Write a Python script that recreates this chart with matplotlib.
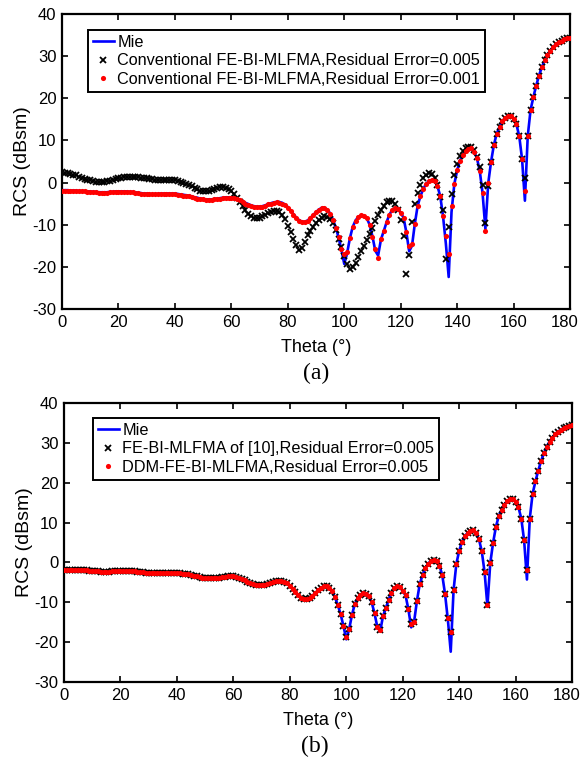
import numpy as np
import matplotlib
matplotlib.use("Agg")
import matplotlib.pyplot as plt
from matplotlib.transforms import ScaledTranslation

plt.rcParams['font.family'] = ['Liberation Sans', 'DejaVu Sans']
plt.rcParams['axes.unicode_minus'] = False

# observation angle, one sample per degree
theta = np.arange(0, 181)

# Mie reference (dBsm)
mie = [
    -1.8, -1.8, -1.8, -1.9, -1.9, -1.9, -2.0, -2.0, -2.0, -2.1,
    -2.1, -2.2, -2.2, -2.3, -2.3, -2.3, -2.3, -2.2, -2.2, -2.1,
    -2.1, -2.1, -2.1, -2.1, -2.2, -2.2, -2.3, -2.4, -2.5, -2.6,
    -2.6, -2.7, -2.7, -2.7, -2.7, -2.6, -2.6, -2.6, -2.6, -2.6,
    -2.6, -2.7, -2.8, -2.9, -3.0, -3.1, -3.3, -3.5, -3.6, -3.8,
    -3.9, -4.0, -4.0, -4.0, -3.9, -3.8, -3.7, -3.6, -3.5, -3.5,
    -3.5, -3.6, -3.8, -4.1, -4.4, -4.8, -5.1, -5.4, -5.6, -5.7,
    -5.7, -5.6, -5.4, -5.1, -4.9, -4.7, -4.6, -4.6, -4.8, -5.2,
    -5.8, -6.6, -7.5, -8.3, -8.9, -9.3, -9.3, -9.0, -8.4, -7.7,
    -7.0, -6.4, -6.0, -6.0, -6.4, -7.3, -8.8, -10.7, -13.0, -16.0,
    -19.3, -16.8, -13.2, -10.5, -9.0, -8.1, -7.8, -7.9, -8.5, -10.0,
    -12.8, -16.2, -17.3, -13.5, -11.5, -9.4, -7.6, -6.5, -6.0, -6.2,
    -7.2, -8.3, -11.8, -16.3, -15.0, -9.8, -5.5, -3.2, -1.5, -0.3,
    0.4, 0.6, 0.4, -0.8, -3.2, -8.0, -14.5, -22.4, -7.0, -0.3,
    2.9, 5.2, 6.6, 7.4, 8.0, 8.1, 7.3, 5.8, 2.8, -2.5,
    -11.0, -0.2, 4.9, 8.9, 11.6, 13.2, 14.5, 15.4, 15.8, 15.8,
    15.2, 13.8, 11.0, 5.5, -4.3, 11.0, 17.2, 20.3, 23.0, 25.4,
    27.4, 29.0, 30.3, 31.3, 32.2, 32.8, 33.3, 33.7, 34.0, 34.3,
    34.4,
]

# (a) conventional FE-BI-MLFMA, residual error 0.005
conv_005 = [
    2.4, 2.3, 2.2, 2.0, 1.8, 1.7, 1.4, 1.1, 0.9, 0.6,
    0.5, 0.3, 0.2, 0.1, 0.1, 0.2, 0.3, 0.4, 0.6, 0.8,
    1.0, 1.1, 1.3, 1.4, 1.4, 1.4, 1.4, 1.3, 1.2, 1.1,
    1.0, 0.9, 0.8, 0.7, 0.6, 0.6, 0.6, 0.6, 0.6, 0.5,
    0.5, 0.4, 0.2, 0.0, -0.3, -0.6, -0.9, -1.3, -1.6, -1.9,
    -2.0, -2.1, -2.0, -1.8, -1.5, -1.3, -1.1, -1.1, -1.2, -1.5,
    -2.1, -2.8, -3.6, -4.5, -5.6, -6.6, -7.4, -8.0, -8.4, -8.5,
    -8.3, -8.0, -7.6, -7.2, -6.9, -6.7, -6.7, -7.0, -7.6, -8.6,
    -10.2, -11.8, -13.3, -14.7, -16.0, -15.5, -14.0, -12.5, -11.5, -10.6,
    -9.5, -8.8, -8.3, -8.0, -8.2, -8.6, -9.6, -11.3, -13.3, -15.2,
    -17.5, -19.4, -20.5, -20.0, -19.0, -17.6, -16.3, -15.0, -13.7, -12.2,
    -10.7, -9.2, -7.8, -6.5, -5.5, -4.7, -4.3, -4.4, -5.0, -6.5,
    -8.8, -12.6, -21.8, -17.2, -9.4, -5.0, -2.5, -0.5, 1.0, 1.8,
    2.2, 2.0, 1.2, -0.5, -3.5, -6.6, -18.1, -10.6, -2.7, 1.7,
    4.4, 6.4, 7.4, 8.2, 8.5, 8.4, 7.8, 6.0, 3.6, -0.5,
    -9.7, -0.7, 5.0, 8.9, 11.6, 13.2, 14.5, 15.4, 15.8, 15.8,
    15.2, 13.8, 11.0, 5.5, 1.0, 11.0, 17.2, 20.3, 23.0, 25.4,
    27.4, 29.0, 30.3, 31.3, 32.2, 32.8, 33.3, 33.7, 34.0, 34.3,
    34.4,
]

# (a) conventional FE-BI-MLFMA, residual error 0.001
conv_001 = [
    -1.9, -1.9, -1.9, -2.0, -2.0, -2.0, -2.1, -2.1, -2.1, -2.2,
    -2.2, -2.3, -2.3, -2.4, -2.4, -2.4, -2.4, -2.3, -2.3, -2.2,
    -2.2, -2.2, -2.2, -2.2, -2.3, -2.3, -2.4, -2.5, -2.6, -2.7,
    -2.7, -2.8, -2.8, -2.8, -2.8, -2.7, -2.7, -2.7, -2.7, -2.7,
    -2.8, -2.9, -3.0, -3.1, -3.2, -3.3, -3.5, -3.7, -3.8, -3.9,
    -4.0, -4.1, -4.1, -4.1, -4.0, -3.9, -3.8, -3.7, -3.6, -3.6,
    -3.6, -3.7, -3.9, -4.2, -4.6, -5.0, -5.3, -5.6, -5.8, -5.9,
    -5.9, -5.8, -5.5, -5.2, -5.0, -4.8, -4.7, -4.8, -5.0, -5.4,
    -6.0, -6.8, -7.7, -8.5, -9.1, -9.4, -9.4, -9.1, -8.5, -7.8,
    -7.1, -6.5, -6.1, -6.1, -6.5, -7.4, -8.9, -10.8, -13.0, -15.8,
    -17.0, -16.5, -13.2, -10.5, -9.0, -8.1, -7.8, -7.9, -8.5, -10.0,
    -12.8, -15.8, -17.8, -13.5, -11.5, -9.4, -7.6, -6.5, -6.0, -6.2,
    -7.2, -8.3, -11.8, -15.0, -14.6, -9.8, -5.5, -3.2, -1.5, -0.3,
    0.4, 0.6, 0.4, -0.8, -3.2, -8.0, -12.6, -16.9, -5.5, -0.3,
    2.9, 5.2, 6.6, 7.4, 8.0, 8.1, 7.3, 5.8, 2.8, -2.5,
    -11.4, -0.2, 4.9, 8.9, 11.6, 13.2, 14.5, 15.4, 15.8, 15.8,
    15.2, 13.8, 11.0, 5.5, -2.1, 11.0, 17.2, 20.3, 23.0, 25.4,
    27.4, 29.0, 30.3, 31.3, 32.2, 32.8, 33.3, 33.7, 34.0, 34.3,
    34.4,
]

# (b) FE-BI-MLFMA of [10] and DDM-FE-BI-MLFMA, both residual error 0.005
ref10_005 = [
    -1.8, -1.8, -1.8, -1.9, -1.9, -1.9, -2.0, -2.0, -2.0, -2.1,
    -2.1, -2.2, -2.2, -2.3, -2.3, -2.3, -2.3, -2.2, -2.2, -2.1,
    -2.1, -2.1, -2.1, -2.1, -2.2, -2.2, -2.3, -2.4, -2.5, -2.6,
    -2.6, -2.7, -2.7, -2.7, -2.7, -2.6, -2.6, -2.6, -2.6, -2.6,
    -2.6, -2.7, -2.8, -2.9, -3.0, -3.1, -3.3, -3.5, -3.6, -3.8,
    -3.9, -4.0, -4.0, -4.0, -3.9, -3.8, -3.7, -3.6, -3.5, -3.5,
    -3.5, -3.6, -3.8, -4.1, -4.4, -4.8, -5.1, -5.4, -5.6, -5.7,
    -5.7, -5.6, -5.4, -5.1, -4.9, -4.7, -4.6, -4.6, -4.8, -5.2,
    -5.8, -6.6, -7.5, -8.3, -8.9, -9.3, -9.3, -9.0, -8.4, -7.7,
    -7.0, -6.4, -6.0, -6.0, -6.4, -7.3, -8.8, -10.7, -13.0, -16.0,
    -18.8, -16.8, -13.2, -10.5, -9.0, -8.1, -7.8, -7.9, -8.5, -10.0,
    -12.8, -16.2, -16.9, -13.5, -11.5, -9.4, -7.6, -6.5, -6.0, -6.2,
    -7.2, -8.3, -11.8, -15.5, -15.0, -9.8, -5.5, -3.2, -1.5, -0.3,
    0.4, 0.6, 0.4, -0.8, -3.2, -8.0, -14.0, -17.4, -7.0, -0.3,
    2.9, 5.2, 6.6, 7.4, 8.0, 8.1, 7.3, 5.8, 2.8, -2.5,
    -10.8, -0.2, 4.9, 8.9, 11.6, 13.2, 14.5, 15.4, 15.8, 15.8,
    15.2, 13.8, 11.0, 5.5, -1.8, 11.0, 17.2, 20.3, 23.0, 25.4,
    27.4, 29.0, 30.3, 31.3, 32.2, 32.8, 33.3, 33.7, 34.0, 34.3,
    34.4,
]
ddm_005 = list(ref10_005)

xticks = [0, 20, 40, 60, 80, 100, 120, 140, 160, 180]
yticks = [-30, -20, -10, 0, 10, 20, 30, 40]


def panel(ax, black, red, labels, legend_anchor):
    ax.plot(theta, mie, color="blue", lw=1.9, label="Mie", zorder=2)
    ax.plot(theta, black, ls="none", marker="x", ms=4.8, mew=1.3,
            color="black", label=labels[0], zorder=3)
    ax.plot(theta, red, ls="none", marker="o", ms=3.7, mew=0,
            color="red", label=labels[1], zorder=4)
    ax.set_xlim(0, 180)
    ax.set_ylim(-30, 40)
    ax.set_xticks(xticks)
    ax.set_yticks(yticks)
    ax.tick_params(direction="in", top=True, right=True, length=4,
                   width=1.2, labelsize=12, pad=4)
    for s in ax.spines.values():
        s.set_linewidth(1.6)
    # last x label sits a bit left so it stays inside the figure
    last = ax.get_xticklabels()[-1]
    last.set_transform(last.get_transform()
                       + ScaledTranslation(-0.05, 0, fig.dpi_scale_trans))
    ax.set_xlabel("Theta (°)", fontsize=13, labelpad=7)
    ax.set_ylabel("RCS (dBsm)", fontsize=14, labelpad=1)
    leg = ax.legend(loc="upper left", bbox_to_anchor=legend_anchor,
                    fontsize=11.7, numpoints=1, handlelength=1.3,
                    handletextpad=0.2, borderpad=0.3, labelspacing=0.22,
                    borderaxespad=0, fancybox=False, framealpha=1,
                    edgecolor="black")
    leg.get_frame().set_linewidth(1.4)


fig = plt.figure(figsize=(5.82, 7.57), dpi=100)
ax1 = fig.add_axes([0.1065, 0.5918, 0.873, 0.3897])
ax2 = fig.add_axes([0.110, 0.0991, 0.873, 0.3686])

panel(ax1, conv_005, conv_001,
      ["Conventional FE-BI-MLFMA,Residual Error=0.005",
       "Conventional FE-BI-MLFMA,Residual Error=0.001"],
      (0.051, 0.946))
panel(ax2, ref10_005, ddm_005,
      ["FE-BI-MLFMA of [10],Residual Error=0.005",
       "DDM-FE-BI-MLFMA,Residual Error=0.005"],
      (0.057, 0.946))

fig.text(0.543, 0.507, "(a)", ha="center", va="center", fontsize=17,
         family=["Liberation Serif", "DejaVu Serif"])
fig.text(0.541, 0.014, "(b)", ha="center", va="center", fontsize=17,
         family=["Liberation Serif", "DejaVu Serif"])

fig.savefig("out.png", dpi=100)
